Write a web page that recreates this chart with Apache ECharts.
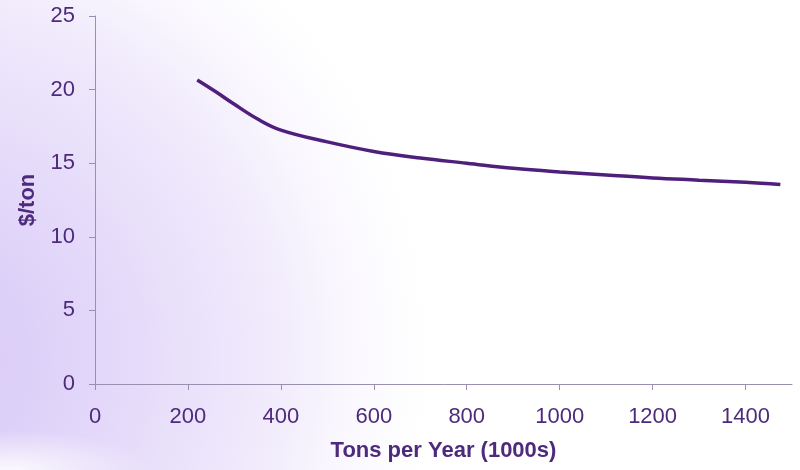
<!DOCTYPE html>
<html>
<head>
<meta charset="utf-8">
<script src="https://cdn.jsdelivr.net/npm/echarts@6/dist/echarts.min.js"></script>
<style>
html,body{margin:0;padding:0;}
#bg{position:absolute;left:0;top:0;width:800px;height:470px;
background:
 radial-gradient(ellipse 140px 40px at 10px 470px, rgba(255,255,255,0.85) 0%, rgba(255,255,255,0) 100%),
 radial-gradient(circle 520px at -90px 360px, #d3c5f7 0%, #dccff8 20%, #e6dcfa 45%, #f1ebfc 70%, #faf8fe 85%, #ffffff 100%);
}
#chart{position:absolute;left:0;top:0;width:800px;height:470px;}
</style>
</head>
<body>
<div id="bg"></div>
<div id="chart"></div>
<script>
const xValues = [220, 260, 300, 350, 400, 500, 600, 700, 800, 900, 1000, 1100, 1200, 1300, 1400, 1475];
const yValues = [20.65, 19.85, 19.0, 18.0, 17.25, 16.45, 15.8, 15.35, 15.0, 14.65, 14.4, 14.2, 14.0, 13.85, 13.7, 13.55];
const xTicks = [0, 200, 400, 600, 800, 1000, 1200, 1400];
const yTicks = [0, 5, 10, 15, 20, 25];

const txt = '#4e2a7c';
const axisCol = '#9a8fae';
const chart = echarts.init(document.getElementById('chart'), null, {renderer: 'canvas'});
chart.setOption({
  backgroundColor: 'transparent',
  animation: false,
  grid: {left: 95, top: 16, right: 8, bottom: 86},
  xAxis: {
    type: 'value', min: 0, max: 1500, interval: 200,
    name: 'Tons per Year (1000s)', nameLocation: 'middle', nameGap: 56,
    nameTextStyle: {color: txt, fontSize: 22, fontWeight: 'bold', fontFamily: 'Liberation Sans'},
    axisLine: {show: true, lineStyle: {color: axisCol, width: 1}},
    axisTick: {show: true, length: 6, lineStyle: {color: axisCol}, customValues: xTicks},
    axisLabel: {color: txt, fontSize: 22, fontFamily: 'Liberation Sans', margin: 22, customValues: xTicks,
      formatter: v => String(v)},
    splitLine: {show: false}
  },
  yAxis: {
    type: 'value', min: 0, max: 25, interval: 5,
    name: '$/ton', nameLocation: 'middle', nameGap: 56,
    nameTextStyle: {color: txt, fontSize: 22, fontWeight: 'bold', fontFamily: 'Liberation Sans'},
    axisLine: {show: true, lineStyle: {color: axisCol, width: 1}},
    axisTick: {show: true, length: 6, lineStyle: {color: axisCol}, customValues: yTicks},
    axisLabel: {color: txt, fontSize: 22, fontFamily: 'Liberation Sans', margin: 20, customValues: yTicks,
      formatter: v => String(v)},
    splitLine: {show: false}
  },
  series: [{
    type: 'line',
    data: xValues.map((x, i) => [x, yValues[i]]),
    smooth: 0.4,
    showSymbol: false,
    lineStyle: {color: '#4f1f7c', width: 3.5}
  }]
});
</script>
</body>
</html>
